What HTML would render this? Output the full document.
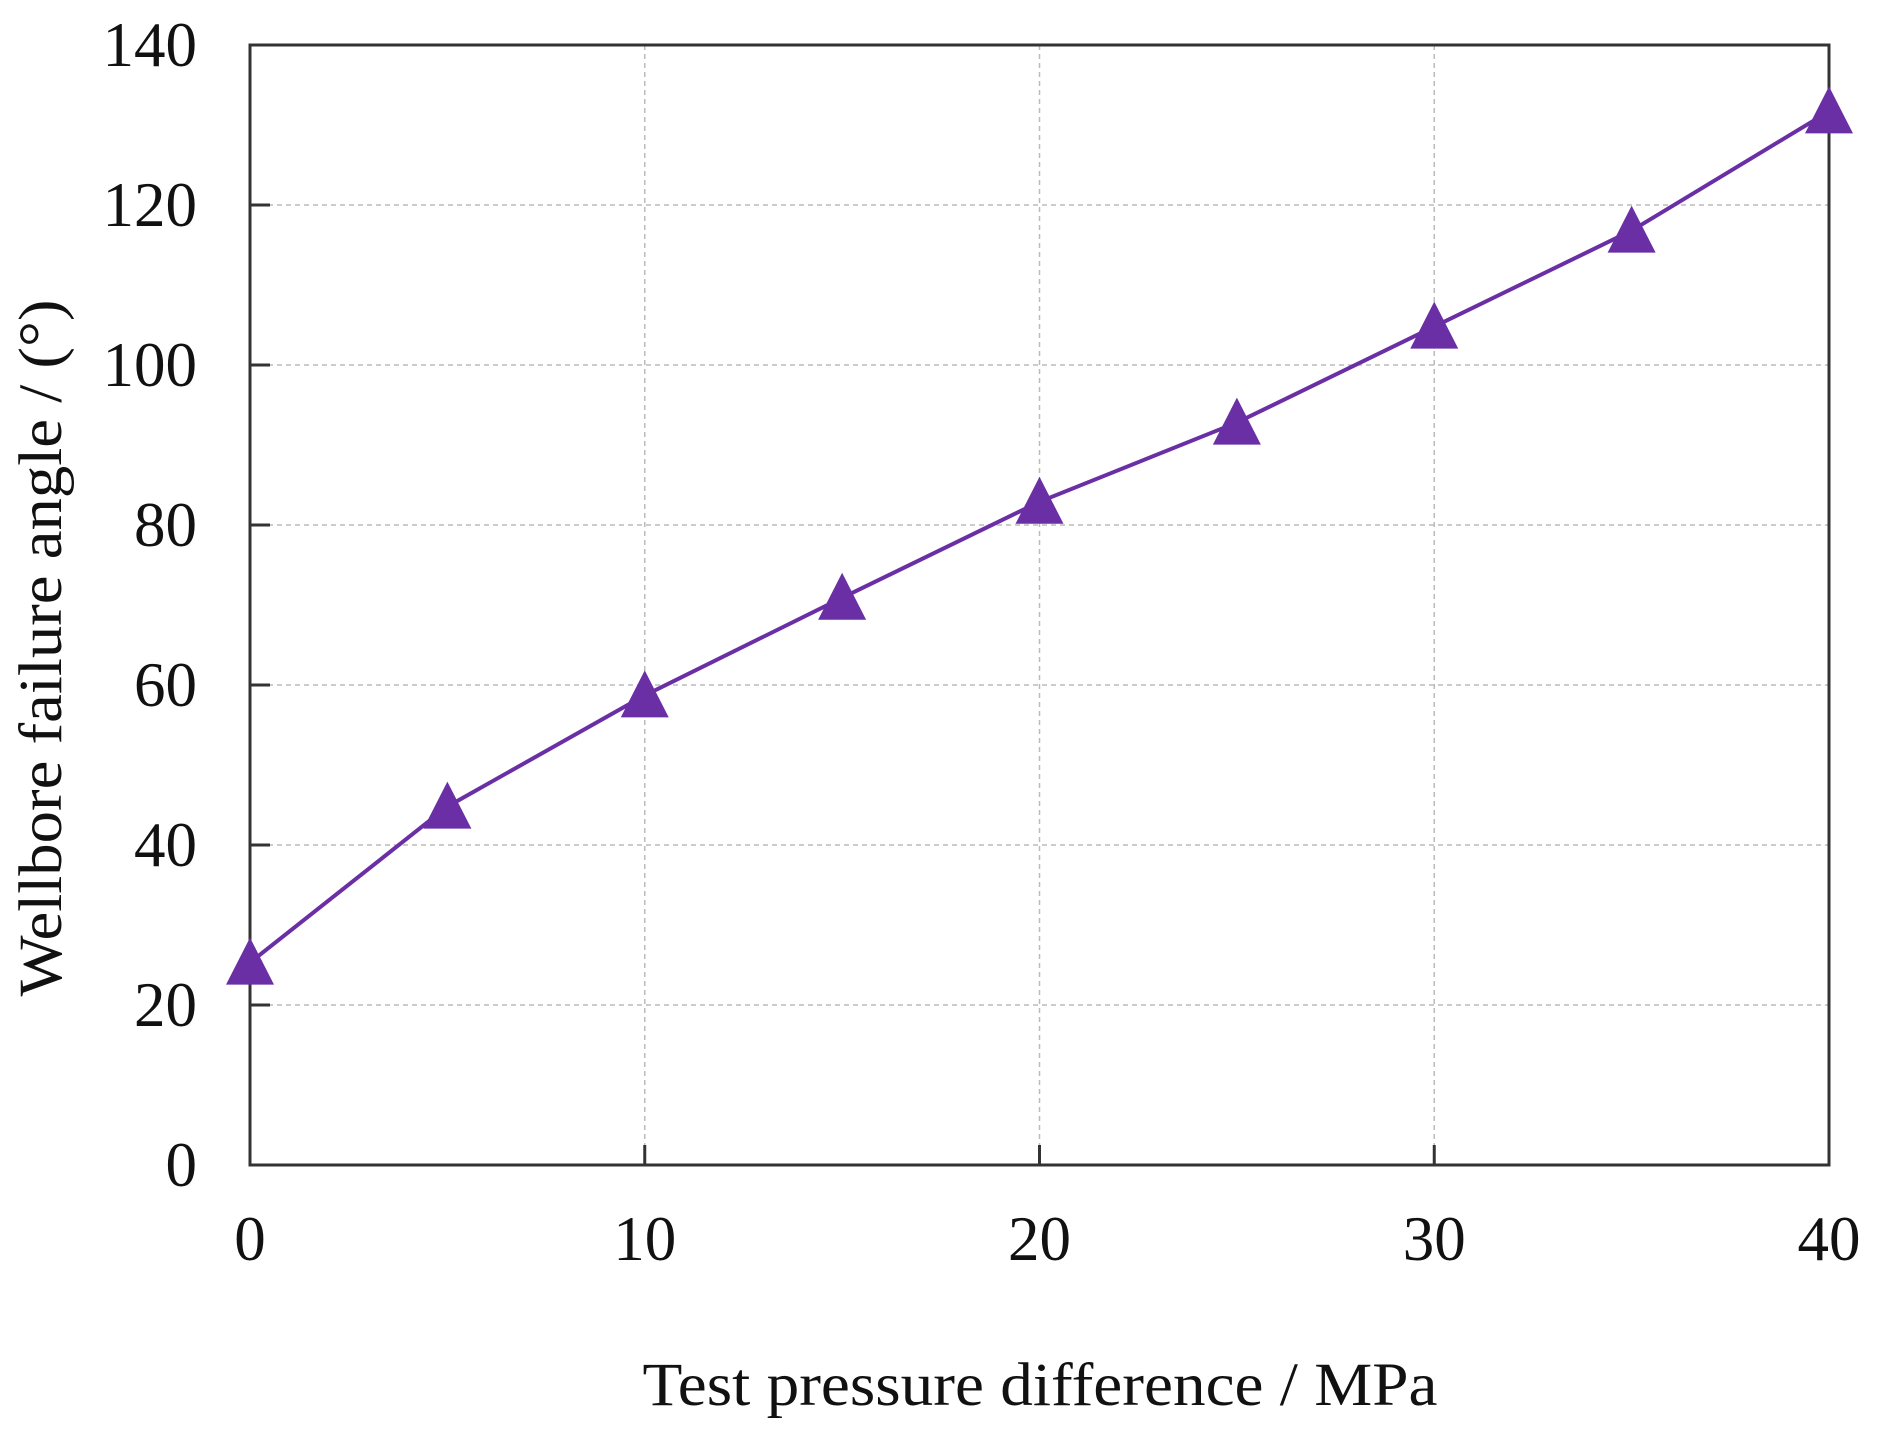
<!DOCTYPE html>
<html><head><meta charset="utf-8"><style>
html,body{margin:0;padding:0;background:#fff;}
svg{display:block;font-family:"Liberation Serif",serif;}
</style></head><body>
<svg id="chart" width="1879" height="1437" viewBox="0 0 1879 1437">
<g id="grid"></g>
<g id="axes"></g>
<g id="series"></g>
<text x="1040" y="1405" font-size="61" text-anchor="middle" textLength="795" lengthAdjust="spacingAndGlyphs" fill="#111">Test pressure difference / MPa</text>
<text transform="translate(61,648) rotate(-90)" font-size="61" text-anchor="middle" textLength="697" lengthAdjust="spacingAndGlyphs" fill="#111">Wellbore failure angle / (°)</text>
</svg>
<script>
const xCategories = [0, 5, 10, 15, 20, 25, 30, 35, 40];
const angleValues = [25.3, 44.8, 58.7, 70.9, 82.9, 92.8, 104.8, 116.8, 131.7];
const xTicks = [0, 10, 20, 30, 40];
const yTicks = [0, 20, 40, 60, 80, 100, 120, 140];

const L = 250, R = 1829, T = 45, B = 1165;
const xs = v => L + (v - 0) / 40 * (R - L);
const ys = v => B - (v - 0) / 140 * (B - T);
const NS = "http://www.w3.org/2000/svg";
function mk(tag, attrs, parent) {
  const e = document.createElementNS(NS, tag);
  for (const k in attrs) e.setAttribute(k, attrs[k]);
  parent.appendChild(e);
  return e;
}
const grid = document.getElementById('grid');
const axes = document.getElementById('axes');
const series = document.getElementById('series');

xTicks.forEach(t => {
  const x = xs(t);
  if (t > 0 && t < 40) {
    const g = mk('line', {x1: x, x2: x, y1: T, y2: B, stroke: '#bbb', 'stroke-width': 1.5, 'stroke-dasharray': '5,4'}, grid);
    
    
    const tk = mk('line', {x1: x, x2: x, y1: B, y2: B - 20, stroke: '#333', 'stroke-width': 3}, axes);
    
    
  }
  const lb = mk('text', {x: x, y: 1260, 'font-size': 63, 'text-anchor': 'middle', fill: '#111'}, axes);
  lb.textContent = t;
  
  
});
yTicks.forEach(t => {
  const y = ys(t);
  if (t > 0 && t < 140) {
    const g = mk('line', {x1: L, x2: R, y1: y, y2: y, stroke: '#bbb', 'stroke-width': 1.5, 'stroke-dasharray': '5,4'}, grid);
    
    
    const tk = mk('line', {x1: L, x2: L + 20, y1: y, y2: y, stroke: '#333', 'stroke-width': 3}, axes);
    
    
  }
  const lb = mk('text', {x: 197, y: y + 21, 'font-size': 63, 'text-anchor': 'end', fill: '#111'}, axes);
  lb.textContent = t;
  
  
});
const frame = mk('rect', {x: L, y: T, width: R - L, height: B - T, fill: 'none', stroke: '#333', 'stroke-width': 3}, axes);



const pts = xCategories.map((c, i) => xs(c) + ',' + ys(angleValues[i])).join(' ');
const line = mk('polyline', {points: pts, fill: 'none', stroke: '#6b2fa5', 'stroke-width': 4}, series);


xCategories.forEach((c, i) => {
  const x = xs(c), y = ys(angleValues[i]);
  const m = mk('polygon', {points: `${x},${y - 25} ${x - 24},${y + 22} ${x + 24},${y + 22}`, fill: '#6b2fa5'}, series);
  
  
});
</script>
</body></html>
